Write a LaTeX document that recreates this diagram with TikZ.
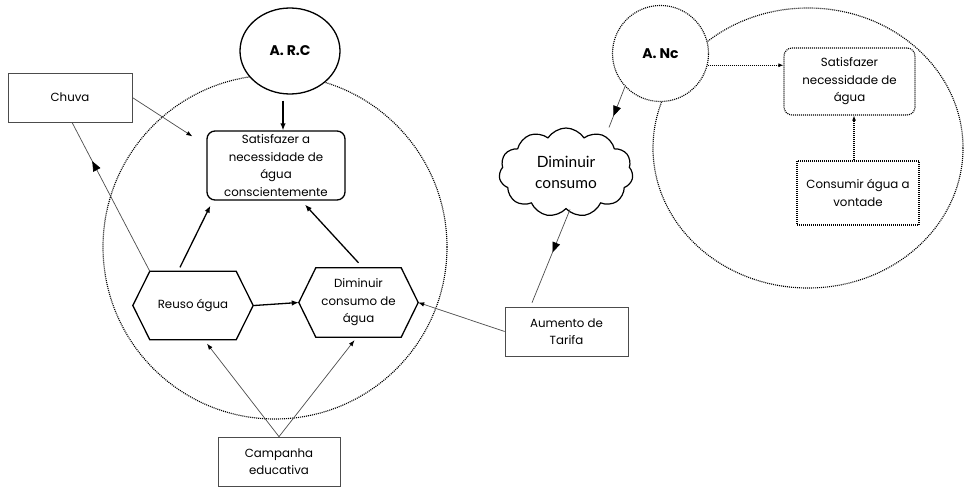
\documentclass[tikz,border=0pt]{standalone}
\usepackage{fontspec}
\setmainfont{Poppins}
\newfontfamily\cloudfont{Lato}
\usetikzlibrary{shapes.symbols,shapes.geometric,decorations.markings,arrows.meta}
\newcommand\drawhexa[1]{\draw[line width=1.3pt, line join=miter] (#1.west) -- ([xshift=17pt]#1.north west) -- ([xshift=-17pt]#1.north east) -- (#1.east) -- ([xshift=-17pt]#1.south east) -- ([xshift=17pt]#1.south west) -- cycle;}
\begin{document}
\begin{tikzpicture}[x=1pt,y=-1pt,
  every node/.style={font=\fontsize{11.8}{17.5}\selectfont, align=center, inner sep=0pt},
  thinbox/.style={draw=black!70, line width=0.7pt, fill=white},
  hexnode/.style={minimum width=120pt, minimum height=68pt},
  dotline/.style={line width=1.15pt, dash pattern=on 1pt off 1pt},
  thickarrow/.style={line width=1.3pt, -{Latex[length=7pt,width=5.5pt]}},
  thinarrow/.style={draw=black!70, line width=0.7pt, -{Latex[length=6pt,width=4.5pt,color=black]}},
  thinline/.style={draw=black!70, line width=0.7pt},
  midarrow/.style={postaction={decorate}, decoration={markings, mark=at position #1 with {\arrow[black]{Triangle[length=10pt,width=8pt]}}}}
]
\useasboundingbox (0,0) rectangle (965,487);
% background dotted regions
\draw[dotline] (275,247) circle[radius=172];
\draw[dotline] (808,148) ellipse[x radius=155, y radius=140];

% nodes
\node[ellipse, draw, line width=1.3pt, fill=white, minimum width=100pt, minimum height=86pt,
      font=\bfseries\fontsize{14}{17}\selectfont] (arc) at (290,51) {A. R.C};
\node[thinbox, minimum width=124pt, minimum height=49pt] (chuva) at (70,97.5) {Chuva};
\node[draw, line width=1.3pt, rounded corners=8pt, fill=white, minimum width=138pt, minimum height=69pt] (sat) at (276,165.5) {Satisfazer a\\necessidade de\\água\\conscientemente};
\node[hexnode] (reuso) at (193,305.5) {Reuso água};
\node[hexnode, minimum width=119pt, minimum height=69pt] (dim) at (358.5,302.5) {Diminuir\\consumo de\\água};
\drawhexa{reuso}
\drawhexa{dim}
\node[thinbox, minimum width=122pt, minimum height=49pt] (camp) at (279,461.5) {Campanha\\educativa};
\node[thinbox, minimum width=123pt, minimum height=49pt] (aum) at (566.5,331.5) {Aumento de\\Tarifa};
\node[cloud, cloud puffs=11, cloud puff arc=115, aspect=1.5, draw, line width=1.2pt, fill=white,
      minimum width=134pt, minimum height=89pt,
      font=\cloudfont\fontsize{15.5}{21}\selectfont] (cloud) at (566,172.5) {Diminuir\\consumo};
\node[circle, dotline, draw, fill=white, minimum size=96pt,
      font=\bfseries\fontsize{14}{17}\selectfont] (anc) at (660.5,53.5) {A. Nc};
\node[dotline, draw, rounded corners=8pt, fill=white, minimum width=131pt, minimum height=67pt] (sat2) at (849.5,81.5) {Satisfazer\\necessidade de\\água};
\node[dotline, draw, fill=white, minimum width=122pt, minimum height=64pt] (cons) at (858,193) {Consumir água a\\vontade};

% connectors
\draw[thickarrow] ([xshift=-7pt,yshift=-6pt]arc.south) -- ([xshift=7pt]sat.north);
\draw[thinarrow] (chuva.east) -- ([xshift=-14pt,yshift=-6pt]sat.north west);
\draw[thickarrow] ([xshift=-13pt,yshift=4pt]reuso.north) -- ([xshift=4pt,yshift=-5pt]sat.south west);
\draw[thickarrow] ([yshift=5pt]dim.north) -- ([xshift=29pt,yshift=-4pt]sat.south);
\draw[thickarrow] ([xshift=1pt]reuso.east) -- (dim.west);
\draw[thinarrow] (camp.north) -- ([xshift=14pt,yshift=-4pt]reuso.south);
\draw[thinarrow] (camp.north) -- ([xshift=-4pt,yshift=-3pt]dim.south);
\draw[thinarrow] (aum.west) -- (dim.east);
\draw[thinline, midarrow=0.74] ([xshift=17pt]reuso.north west) -- ([xshift=2pt]chuva.south);
\draw[thinline, midarrow=0.46] ([xshift=4pt]cloud.south) -- ([xshift=-34.5pt,yshift=4pt]aum.north);
\draw[thinline, midarrow=0.72] (anc.223) -- ([xshift=43pt]cloud.north);
\draw[dotline, -{Latex[length=5pt,width=4pt]}] (anc.-14) -- (anc.-14 -| sat2.west);
\draw[dotline, -{Latex[length=5pt,width=4pt]}] ([xshift=-4pt]cons.north) -- ([xshift=-4pt]cons.north |- sat2.south);
\end{tikzpicture}
\end{document}
